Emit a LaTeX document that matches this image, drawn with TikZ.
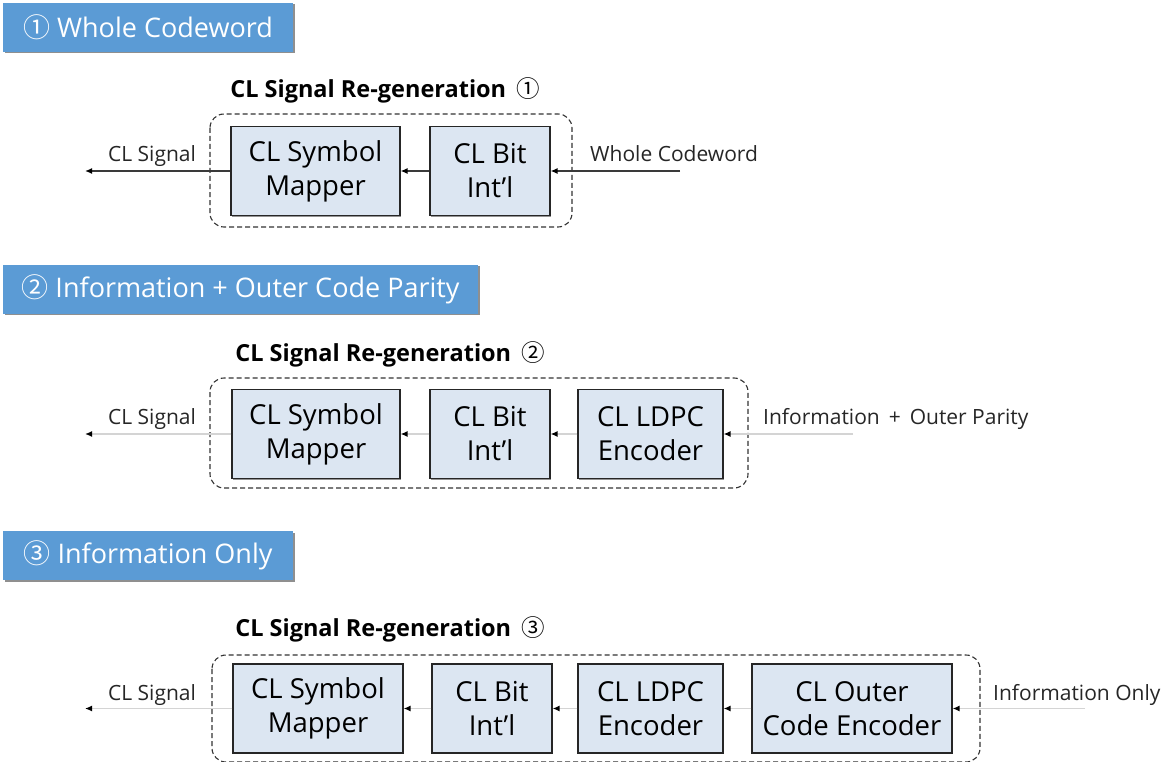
\documentclass[tikz,border=0pt]{standalone}
\usepackage{fontspec}
\setmainfont{Open Sans}
\newfontfamily\circfont{Noto Sans CJK KR}
\usetikzlibrary{arrows.meta,shadows}
\definecolor{hdr}{HTML}{5B9BD5}
\definecolor{blkfill}{HTML}{DCE6F2}
\definecolor{bdr}{HTML}{262626}
\definecolor{txt}{HTML}{262626}
\definecolor{lightln}{HTML}{D4D4D4}
\definecolor{darkln}{HTML}{3A3A3A}
\begin{document}
\begin{tikzpicture}[x=1pt,y=-1pt,
  header/.style={fill=hdr, text=white, inner sep=0pt, minimum height=49pt,
    font=\fontsize{27}{30}\selectfont,
    drop shadow={shadow xshift=1.5pt, shadow yshift=-1.5pt, opacity=0.8, fill=black!55}},
  blk/.style={draw=bdr, fill=blkfill, line width=1.2pt, minimum height=89pt,
    inner sep=0pt, align=center, text=black, font=\fontsize{27.5}{34}\selectfont,
    drop shadow={shadow xshift=1pt, shadow yshift=-1pt, opacity=0.7, fill=black!60}},
  grp/.style={draw=black!80, line width=1.1pt, dash pattern=on 5pt off 3pt, rounded corners=14pt},
  title/.style={font=\fontsize{23.5}{26}\selectfont\bfseries, text=black, inner sep=0pt, anchor=base},
  lbl/.style={font=\fontsize{21}{24}\selectfont, text=txt, inner sep=0pt},
  darkarr/.style={draw=darkln, line width=1.3pt, -{Latex[length=7pt,width=6pt,color=black]}},
  lightarr/.style={draw=lightln, line width=1.3pt, -{Latex[length=7pt,width=6pt,color=black]}}
]
\useasboundingbox (0,0) rectangle (1166,762);

% ---------------- Section 1 ----------------
\node[header, minimum width=290pt] (h1) at (148,27.5) {{\circfont ①} Whole Codeword};
\node[title] (t1) at (385,98) {CL Signal Re-generation \,{\circfont\mdseries ①}};
\draw[grp] (210,114) rectangle (572,227);
\node[blk, minimum width=169pt] (m1) at (315.5,171) {CL Symbol\\Mapper};
\node[blk, minimum width=120pt] (b1) at (490,171) {CL Bit\\Int'l};
\coordinate (in1) at (680,171);
\coordinate (out1) at (85,171);
\draw[darkarr] (in1) -- (b1.east);
\draw[darkarr] (b1.west) -- (m1.east);
\draw[darkarr] (m1.west) -- (out1);
\node[lbl, anchor=base] (s1) at (152,162) {CL Signal};
\node[lbl, anchor=base west] (w1) at (590,161) {Whole Codeword};

% ---------------- Section 2 ----------------
\node[header, minimum width=475pt] (h2) at (240.5,289) {{\circfont ②} Information + Outer Code Parity};
\node[title] (t2) at (390,361) {CL Signal Re-generation \,{\circfont\mdseries ②}};
\draw[grp] (210,378) rectangle (748,488);
\node[blk, minimum width=168pt] (m2) at (316,434) {CL Symbol\\Mapper};
\node[blk, minimum width=120pt] (b2) at (490,434) {CL Bit\\Int'l};
\node[blk, minimum width=145pt] (l2) at (650.5,434) {CL LDPC\\Encoder};
\coordinate (in2) at (853,434);
\coordinate (out2) at (85,434);
\draw[lightarr] (in2) -- (l2.east);
\draw[lightarr] (l2.west) -- (b2.east);
\draw[lightarr] (b2.west) -- (m2.east);
\draw[lightarr] (m2.west) -- (out2);
\node[lbl, anchor=base] (s2) at (152,424) {CL Signal};
\node[lbl, anchor=base west] (w2) at (763,424) {Information \,+\, Outer Parity};

% ---------------- Section 3 ----------------
\node[header, minimum width=290pt] (h3) at (148,555.5) {{\circfont ③} Information Only};
\node[title] (t3) at (390,636) {CL Signal Re-generation \,{\circfont\mdseries ③}};
\draw[grp] (212,655) rectangle (980,762);
\node[blk, minimum width=170pt] (m3) at (318,708.5) {CL Symbol\\Mapper};
\node[blk, minimum width=120pt] (b3) at (492,708.5) {CL Bit\\Int'l};
\node[blk, minimum width=145pt] (l3) at (650.5,708.5) {CL LDPC\\Encoder};
\node[blk, minimum width=200pt] (o3) at (852,708.5) {CL Outer\\Code Encoder};
\coordinate (in3) at (1085,708.5);
\coordinate (out3) at (85,708.5);
\draw[lightarr] (in3) -- (o3.east);
\draw[lightarr] (o3.west) -- (l3.east);
\draw[lightarr] (l3.west) -- (b3.east);
\draw[lightarr] (b3.west) -- (m3.east);
\draw[lightarr] (m3.west) -- (out3);
\node[lbl, anchor=base] (s3) at (152,700) {CL Signal};
\node[lbl, anchor=base west] (w3) at (993,700) {Information Only};
\end{tikzpicture}
\end{document}
